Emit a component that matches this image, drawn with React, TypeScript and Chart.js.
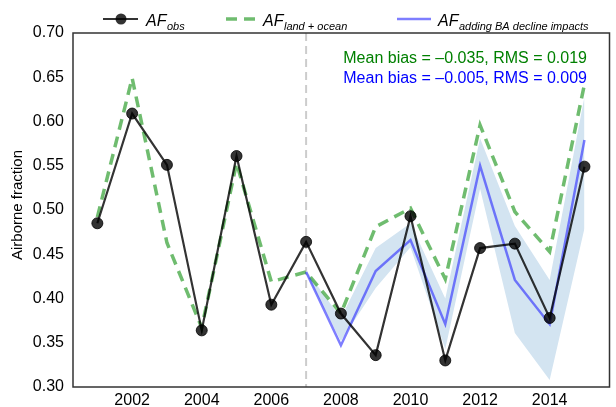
import { useEffect, useRef } from 'react';
import { Chart, registerables } from 'chart.js';

Chart.register(...registerables);

const years = [2001, 2002, 2003, 2004, 2005, 2006, 2007, 2008, 2009, 2010, 2011, 2012, 2013, 2014, 2015];
const afObs = [0.485, 0.609, 0.551, 0.364, 0.561, 0.393, 0.464, 0.383, 0.336, 0.493, 0.330, 0.457, 0.462, 0.378, 0.549];
const afLandOcean = [0.492, 0.649, 0.463, 0.367, 0.553, 0.419, 0.430, 0.383, 0.481, 0.502, 0.422, 0.596, 0.498, 0.453, 0.642];

const baYears = [2007, 2008, 2009, 2010, 2011, 2012, 2013, 2014, 2015];
const afBA = [0.430, 0.347, 0.431, 0.466, 0.371, 0.550, 0.421, 0.371, 0.579];
const bandUpper = [0.432, 0.378, 0.457, 0.485, 0.400, 0.581, 0.482, 0.421, 0.628];
const bandLower = [0.428, 0.352, 0.412, 0.458, 0.343, 0.524, 0.361, 0.308, 0.479];

const xTicks = [2002, 2004, 2006, 2008, 2010, 2012, 2014];
const yTicks = [0.3, 0.35, 0.4, 0.45, 0.5, 0.55, 0.6, 0.65, 0.7];
const splitYear = 2007;

const yTitle = 'Airborne fraction';
const statsLandOcean = 'Mean bias = \u20130.035, RMS = 0.019';
const statsBA = 'Mean bias = \u20130.005, RMS = 0.009';
const legendItems = [
  { main: 'AF', sub: 'obs' },
  { main: 'AF', sub: 'land + ocean' },
  { main: 'AF', sub: 'adding BA decline impacts' },
];

const FONT = '"Liberation Sans", Arial, Helvetica, sans-serif';
const BLACK = 'rgba(0,0,0,0.8)';
const GREEN = 'rgba(50,160,50,0.7)';
const BLUE = 'rgba(40,40,255,0.6)';
const BAND = '#d3e4f1';

const toXY = (xs: number[], ys: number[]) => xs.map((x, i) => ({ x, y: ys[i] }));

const decorPlugin = {
  id: 'decor',
  beforeDatasetsDraw(chart: any) {
    const { ctx, chartArea, scales } = chart;
    const x = scales.x.getPixelForValue(splitYear);
    ctx.save();
    ctx.strokeStyle = '#cccccc';
    ctx.lineWidth = 2;
    ctx.setLineDash([8, 5]);
    ctx.beginPath();
    ctx.moveTo(x, chartArea.top);
    ctx.lineTo(x, chartArea.bottom);
    ctx.stroke();
    ctx.restore();
  },
  afterDraw(chart: any) {
    const { ctx, chartArea } = chart;
    ctx.save();
    // frame
    ctx.strokeStyle = '#333333';
    ctx.lineWidth = 1.5;
    ctx.setLineDash([]);
    ctx.strokeRect(chartArea.left, chartArea.top, chartArea.right - chartArea.left, chartArea.bottom - chartArea.top);

    // y title
    ctx.save();
    ctx.translate(18, 205);
    ctx.rotate(-Math.PI / 2);
    ctx.font = `15px ${FONT}`;
    ctx.fillStyle = '#000';
    ctx.textAlign = 'center';
    ctx.textBaseline = 'middle';
    ctx.fillText(yTitle, 0, 0);
    ctx.restore();

    // stats annotations
    ctx.font = `16px ${FONT}`;
    ctx.textAlign = 'right';
    ctx.textBaseline = 'alphabetic';
    ctx.fillStyle = '#008000';
    ctx.fillText(statsLandOcean, 587, 62.5);
    ctx.fillStyle = '#0000ff';
    ctx.fillText(statsBA, 587, 83);

    // legend
    const ly = 19;
    ctx.lineCap = 'butt';
    // obs
    ctx.strokeStyle = BLACK;
    ctx.lineWidth = 2.2;
    ctx.beginPath();
    ctx.moveTo(103, ly);
    ctx.lineTo(138, ly);
    ctx.stroke();
    ctx.fillStyle = BLACK;
    ctx.beginPath();
    ctx.arc(121, ly, 5.5, 0, Math.PI * 2);
    ctx.fill();
    // land + ocean
    ctx.strokeStyle = GREEN;
    ctx.lineWidth = 3.5;
    ctx.setLineDash([11, 7]);
    ctx.beginPath();
    ctx.moveTo(226, ly);
    ctx.lineTo(258, ly);
    ctx.stroke();
    ctx.setLineDash([]);
    // BA
    ctx.strokeStyle = BLUE;
    ctx.lineWidth = 2.5;
    ctx.beginPath();
    ctx.moveTo(397, ly);
    ctx.lineTo(431, ly);
    ctx.stroke();

    const starts = [146, 263, 438];
    ctx.textAlign = 'left';
    ctx.fillStyle = '#000';
    legendItems.forEach((it, i) => {
      ctx.font = `italic 16px ${FONT}`;
      ctx.fillText(it.main, starts[i], 26);
      const w = ctx.measureText(it.main).width;
      ctx.font = `italic 11px ${FONT}`;
      ctx.fillText(it.sub, starts[i] + w + 0.5, 30);
    });
    ctx.restore();
  },
};

export default function App() {
  const ref = useRef<HTMLCanvasElement>(null);
  useEffect(() => {
    document.body.style.margin = '0';
    const canvas = ref.current;
    if (!canvas) return;
    Chart.defaults.font.family = FONT;
    const chart = new Chart(canvas, {
      type: 'line',
      data: {
        datasets: [
          {
            label: 'band upper',
            data: toXY(baYears, bandUpper),
            borderColor: 'rgba(0,0,0,0)',
            borderWidth: 0,
            pointRadius: 0,
            backgroundColor: BAND,
            fill: '+1',
            order: 5,
          },
          {
            label: 'band lower',
            data: toXY(baYears, bandLower),
            borderColor: 'rgba(0,0,0,0)',
            borderWidth: 0,
            pointRadius: 0,
            fill: false,
            order: 6,
          },
          {
            label: 'AF land + ocean',
            data: toXY(years, afLandOcean),
            borderColor: GREEN,
            borderWidth: 3.5,
            borderDash: [11, 7],
            pointRadius: 0,
            fill: false,
            order: 3,
          },
          {
            label: 'AF adding BA decline impacts',
            data: toXY(baYears, afBA),
            borderColor: BLUE,
            borderWidth: 2.5,
            pointRadius: 0,
            fill: false,
            order: 2,
          },
          {
            label: 'AF obs',
            data: toXY(years, afObs),
            borderColor: BLACK,
            borderWidth: 2.2,
            pointRadius: 5.5,
            pointBackgroundColor: BLACK,
            pointBorderColor: BLACK,
            pointBorderWidth: 1,
            fill: false,
            order: 1,
          },
        ],
      },
      options: {
        animation: false,
        responsive: true,
        maintainAspectRatio: false,
        layout: { padding: { top: 33, right: 1, bottom: 0, left: 0 } },
        elements: { line: { tension: 0 } },
        plugins: {
          legend: { display: false },
          tooltip: { enabled: false },
        },
        scales: {
          x: {
            type: 'linear',
            min: 2000.3,
            max: 2015.72,
            grid: { display: false, drawTicks: false },
            border: { display: false },
            ticks: {
              padding: 4,
              color: '#000',
              font: { size: 16 },
              autoSkip: false,
              maxRotation: 0,
              callback: (v: any) => String(v),
            },
            afterBuildTicks: (s: any) => {
              s.ticks = xTicks.map((v) => ({ value: v }));
            },
            afterFit: (s: any) => {
              s.height = 20;
            },
          },
          y: {
            min: 0.3,
            max: 0.7,
            grid: { display: false, drawTicks: false },
            border: { display: false },
            ticks: {
              padding: 9,
              color: '#000',
              font: { size: 16 },
              callback: (v: any) => Number(v).toFixed(2),
            },
            afterBuildTicks: (s: any) => {
              s.ticks = yTicks.map((v) => ({ value: v }));
            },
            afterFit: (s: any) => {
              s.width = 73;
            },
          },
        },
      },
      plugins: [decorPlugin],
    } as any);
    return () => chart.destroy();
  }, []);
  return (
    <div style={{ position: 'relative', width: 616, height: 407 }}>
      <canvas ref={ref} />
    </div>
  );
}
